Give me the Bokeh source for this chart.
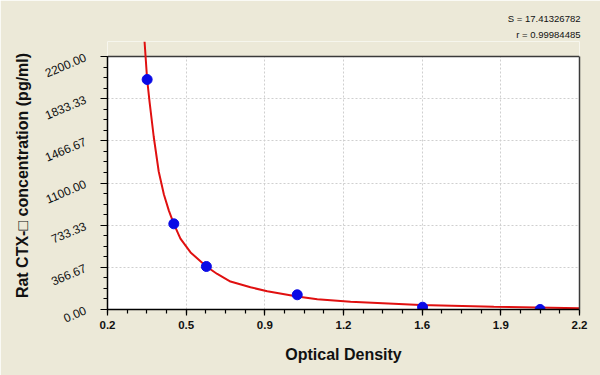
from bokeh.plotting import figure
from bokeh.models import (FixedTicker, LinearAxis, Range1d, BoxAnnotation, Span, Title)
from bokeh.embed import file_html
from bokeh.resources import INLINE

# ---- data ----
std_od = [0.368, 0.481, 0.619, 1.004, 1.535, 2.033]
std_conc = [2000, 745, 374, 128, 20, 0]

curve_od = [0.357, 0.368, 0.378, 0.396, 0.417, 0.439, 0.460, 0.481, 0.509, 0.552,
            0.619, 0.665, 0.721, 0.806, 0.877, 1.004, 1.089, 1.230, 1.526, 1.837, 2.200]
curve_conc = [2330, 2000, 1809, 1500, 1200, 1000, 860, 745, 617, 496,
              374, 309, 243, 193, 159, 113, 90, 67, 39, 23, 11]

x_tick_labels = ["0.2", "0.5", "0.9", "1.2", "1.6", "1.9", "2.2"]
y_tick_labels = ["0.00", "366.67", "733.33", "1100.00", "1466.67", "1833.33", "2200.00"]
stats_lines = ["S = 17.41326782", "r = 0.99984485"]

X_MIN, X_MAX = 0.2, 2.2
Y_MIN, Y_MAX = 0.0, 2200.0
BG = "#ECE9D8"

n = len(x_tick_labels) - 1
x_ticks = [X_MIN + (X_MAX - X_MIN) * k / n for k in range(n + 1)]
x_minor = [X_MIN + (X_MAX - X_MIN) * k / (4 * n) for k in range(4 * n + 1)]
m = len(y_tick_labels) - 1
y_ticks = [Y_MIN + (Y_MAX - Y_MIN) * k / m for k in range(m + 1)]
y_minor = [Y_MIN + (Y_MAX - Y_MIN) * k / (4 * m) for k in range(4 * m + 1)]

frame_h = 268
y_top = Y_MAX * frame_h / 253.0

p = figure(frame_width=472, frame_height=frame_h,
           min_border_left=107, min_border_right=21, min_border_top=41, min_border_bottom=66,
           x_range=Range1d(X_MIN, X_MAX), y_range=Range1d(Y_MIN, y_top),
           output_backend="svg", toolbar_location=None,
           background_fill_color="white", border_fill_color=BG)
p.outline_line_color = None

# statistics text (stacked titles, right aligned); the added title sits nearest the frame
p.title.text = stats_lines[0]
extra = Title(text=stats_lines[1])
p.add_layout(extra, "above")
for t in (p.title, extra):
    t.align = "right"
    t.text_font = "Liberation Sans"
    t.text_font_size = "9.5px"
    t.text_font_style = "normal"
    t.text_color = "#111111"
    t.standoff = 3
    t.offset = -1

# axes
xa = p.xaxis[0]
xa.ticker = FixedTicker(ticks=x_ticks, minor_ticks=x_minor)
xa.major_label_overrides = {t: l for t, l in zip(x_ticks, x_tick_labels)}
xa.axis_label = "Optical Density"
ya = p.yaxis[0]
ya.ticker = FixedTicker(ticks=y_ticks, minor_ticks=y_minor)
ya.major_label_overrides = {t: l for t, l in zip(y_ticks, y_tick_labels)}
ya.axis_label = "Rat CTX-\u25a1 concentration (pg/ml)"
ya.bounds = (Y_MIN, Y_MAX)
ya.major_label_orientation = 0.4

for ax in (xa, ya):
    ax.axis_line_color = "black"
    ax.axis_line_width = 1.5
    ax.major_tick_line_color = "black"
    ax.minor_tick_line_color = "black"
    ax.major_tick_line_width = 1.2
    ax.minor_tick_line_width = 1.2
    ax.major_tick_in = 0
    ax.minor_tick_in = 0
    ax.major_tick_out = 6
    ax.minor_tick_out = 4
    ax.axis_label_text_font = "Liberation Sans"
    ax.axis_label_text_font_style = "bold"
    ax.axis_label_text_font_size = "16px"
    ax.axis_label_text_color = "#111111"
    ax.major_label_text_font = "Liberation Sans"
    ax.major_label_text_color = "#111111"

xa.major_label_text_font_style = "bold"
xa.major_label_text_font_size = "11.5px"
xa.major_label_standoff = 5
xa.axis_label_standoff = 14
ya.major_label_text_font_size = "12px"
ya.major_label_text_font_style = "normal"
ya.major_label_standoff = 15
ya.axis_label_standoff = 8
ya.major_tick_out = 7
ya.minor_tick_out = 4

# right border as a bare axis
ra = LinearAxis(ticker=FixedTicker(ticks=[]), bounds=(Y_MIN, Y_MAX),
                major_label_text_font_size="0px", axis_line_color="#3a3a3a",
                axis_line_width=1.5, major_tick_line_color=None, minor_tick_line_color=None)
p.add_layout(ra, "right")

# grid
for g in (p.xgrid[0], p.ygrid[0]):
    g.grid_line_color = "#cfcfcf"
    g.grid_line_dash = "2 2"
    g.grid_line_width = 1

# beige band above the plot box so the curve can exit the box
p.add_layout(BoxAnnotation(bottom=Y_MAX, fill_color=BG, fill_alpha=1.0,
                           line_alpha=0, level="underlay"))
p.add_layout(Span(location=Y_MAX, dimension="width", line_color="#3a3a3a",
                  line_width=1.5, level="underlay"))

# curve and points
p.line(curve_od, curve_conc, line_color="#E01010", line_width=2)
p.scatter(std_od, std_conc, size=10, fill_color="#0A0AE6", line_color="#0A0AE6")

open("out.html", "w").write(file_html(p, INLINE))
